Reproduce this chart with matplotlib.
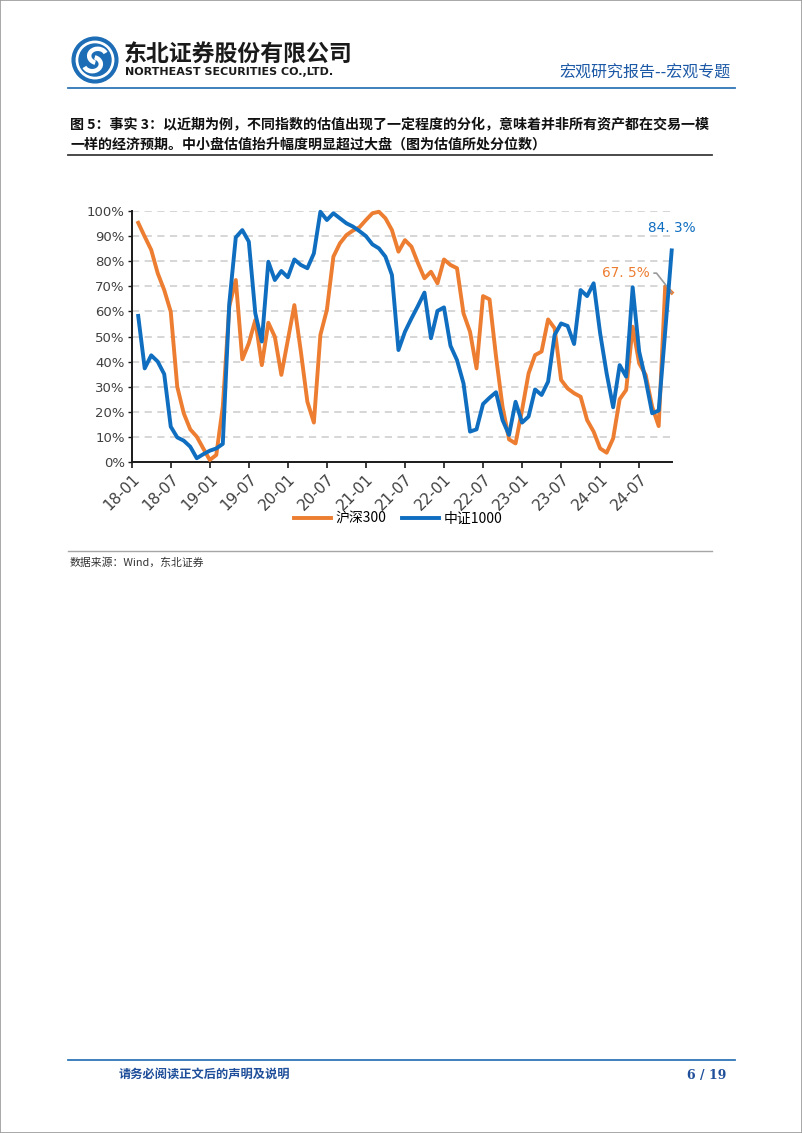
import numpy as np
import matplotlib
matplotlib.use("Agg")
import matplotlib.pyplot as plt
from matplotlib.patches import Circle, Arc, Rectangle
from matplotlib.lines import Line2D
from matplotlib.ticker import FuncFormatter

CJK = ['Noto Sans CJK SC', 'DejaVu Sans']
plt.rcParams['font.family'] = CJK

# ---------------- data (month-end percentile, %) ----------------
months_start = "2018-01"
tick_labels = ["18-01", "18-07", "19-01", "19-07", "20-01", "20-07", "21-01",
               "21-07", "22-01", "22-07", "23-01", "23-07", "24-01", "24-07"]
hs300 = [95.3, 89.8, 84.5, 75.2, 68.5, 59.9, 30.0, 19.4, 13.0, 10.1, 5.4, 0.8,
         2.8, 22.0, 62.0, 72.5, 40.9, 47.3, 56.6, 38.6, 55.5, 49.9, 34.7, 48.6,
         62.5, 44.0, 24.0, 15.7, 50.6, 60.6, 81.8, 87.1, 90.4, 92.2, 93.5, 96.4,
         99.1, 99.7, 97.1, 92.4, 83.8, 88.4, 85.8, 79.2, 73.2, 75.8, 71.2, 80.7,
         78.5, 77.2, 59.2, 51.9, 37.3, 66.1, 64.8, 42.0, 22.0, 9.0, 7.4, 20.7,
         35.3, 42.6, 44.0, 56.8, 53.3, 32.7, 29.3, 27.4, 26.0, 16.7, 12.1, 5.4,
         3.7, 9.4, 25.0, 28.7, 53.9, 39.3, 34.7, 22.0, 14.3, 69.9, 67.5]
zz1000 = [58.2, 37.3, 42.5, 40.0, 35.0, 14.1, 9.8, 8.5, 6.1, 1.5, 3.1, 4.5,
          5.4, 7.2, 63.2, 89.5, 92.4, 87.8, 59.2, 48.0, 79.8, 72.5, 76.1, 73.6,
          80.7, 78.5, 77.2, 83.1, 99.7, 96.4, 99.1, 97.1, 95.1, 93.8, 92.0, 90.0,
          86.7, 85.1, 81.8, 74.5, 44.6, 51.9, 57.2, 62.2, 67.5, 49.3, 60.2, 61.6,
          46.3, 40.6, 31.3, 12.1, 13.0, 23.1, 25.6, 27.8, 16.7, 10.8, 24.0, 15.7,
          18.1, 28.9, 26.7, 32.0, 50.6, 55.2, 54.2, 47.0, 68.5, 66.1, 71.2, 51.3,
          35.3, 21.8, 38.6, 34.0, 69.6, 44.0, 32.7, 19.4, 20.5, 52.0, 84.3]
series_names = ["沪深300", "中证1000"]
last_labels = ["67. 5%", "84. 3%"]

ORANGE = '#ED7D31'
BLUE = '#0F6EC0'

W, H = 802, 1133
fig = plt.figure(figsize=(W / 100, H / 100), dpi=100)


def fx(x):
    return x / W


def fy(y):
    return 1 - y / H


# ---------------- page border ----------------
fig.add_artist(Rectangle((0, 0), 1, 1, transform=fig.transFigure, fill=False,
                         edgecolor='#9A9A9A', lw=1.2))

# ---------------- header ----------------
lax = fig.add_axes([fx(71), fy(84), fx(48), 48 / H])
lax.set_xlim(-1.05, 1.05)
lax.set_ylim(-1.05, 1.05)
lax.set_aspect('equal')
lax.axis('off')
lax.add_patch(Circle((0, 0), 1.0, color='#1C6DB6'))
lax.add_patch(Circle((0, 0), 0.82, color='white'))
lax.add_patch(Circle((0, 0), 0.70, color='#1C6DB6'))
lax.add_patch(Arc((0.12, 0.18), 0.75, 0.62, theta1=20, theta2=250, color='white', lw=3.2))
lax.add_patch(Arc((-0.12, -0.18), 0.75, 0.62, theta1=200, theta2=430, color='white', lw=3.2))

fig.text(fx(124), fy(54), "东北证券股份有限公司", fontsize=16.5, fontweight='bold',
         color='#1A1A1A', va='center', ha='left')
fig.text(fx(125), fy(72), "NORTHEAST SECURITIES CO.,LTD.", fontsize=8, fontweight='bold',
         color='#1A1A1A', va='center', ha='left', family=['DejaVu Sans'])
fig.text(fx(731), fy(73), "宏观研究报告--宏观专题", fontsize=11.5, color='#1B58A6',
         va='center', ha='right')
fig.add_artist(Line2D([fx(68), fx(735)], [fy(88), fy(88)], transform=fig.transFigure,
                      color='#2E75B6', lw=1.3))

# ---------------- title ----------------
fig.text(fx(70), fy(125), "图 5：事实 3：以近期为例，不同指数的估值出现了一定程度的分化，意味着并非所有资产都在交易一模",
         fontsize=10.1, fontweight='bold', color='#111111', va='center', ha='left')
fig.text(fx(70), fy(145), "一样的经济预期。中小盘估值抬升幅度明显超过大盘（图为估值所处分位数）",
         fontsize=10.1, fontweight='bold', color='#111111', va='center', ha='left')
fig.add_artist(Line2D([fx(68), fx(712)], [fy(155), fy(155)], transform=fig.transFigure,
                      color='#3A3A3A', lw=1.3))

# ---------------- chart ----------------
ax = fig.add_axes([fx(131.7), fy(462), fx(671.7) - fx(131.7), (462 - 211) / H])
n = len(hs300)
x = np.arange(1, n + 1)
y1 = np.array(hs300) / 100
y2 = np.array(zz1000) / 100

ax.set_xlim(0, n)
ax.set_ylim(0, 1)
ax.set_yticks(np.linspace(0, 1, 11))
ax.yaxis.set_major_formatter(FuncFormatter(lambda v, p: f"{v * 100:.0f}%"))
ax.set_xticks(np.arange(0, 6 * len(tick_labels), 6))
ax.set_xticklabels(tick_labels, rotation=45, ha='right', rotation_mode='anchor')
ax.tick_params(axis='x', direction='out', length=4, width=1.2, color='#1A1A1A',
               labelsize=11, labelcolor='#404040', pad=3)
ax.tick_params(axis='y', direction='out', length=3, width=1.0, color='#1A1A1A',
               labelsize=9.5, labelcolor='#404040', pad=2)
for lab in ax.get_xticklabels() + ax.get_yticklabels():
    lab.set_family(['DejaVu Sans'])

for s in ['top', 'right']:
    ax.spines[s].set_visible(False)
for s in ['left', 'bottom']:
    ax.spines[s].set_color('#1A1A1A')
    ax.spines[s].set_linewidth(1.4)

ax.yaxis.grid(True, linestyle=(0, (4, 3)), color='#D3D3D3', lw=1.3)
ax.set_axisbelow(True)

l1, = ax.plot(x, y1, color=ORANGE, lw=2.8, clip_on=False, zorder=3)
l2, = ax.plot(x, y2, color=BLUE, lw=2.8, clip_on=False, zorder=4)

ax.annotate(last_labels[1], xy=(x[-1], y2[-1]), xytext=(0, 16), textcoords='offset points',
            ha='center', va='center', fontsize=9.8, color=BLUE, family=['DejaVu Sans'])
ax.annotate(last_labels[0], xy=(x[-1], y1[-1]), xytext=(-33, 14), textcoords='offset points',
            ha='center', va='center', fontsize=9.8, color=ORANGE, family=['DejaVu Sans'],
            arrowprops=dict(arrowstyle='-', color='#9A9A9A', lw=1.2, shrinkA=1, shrinkB=0,
                            relpos=(1.0, 0.5),
                            connectionstyle='angle,angleA=0,angleB=-52,rad=0'))

fig.legend([l1, l2], series_names, loc='center', bbox_to_anchor=(fx(398), fy(519)),
           ncol=2, frameon=False, handlelength=2.7, handletextpad=0.3,
           columnspacing=1.1, prop={'family': CJK, 'size': 10})

# ---------------- source ----------------
fig.add_artist(Line2D([fx(68), fx(712)], [fy(551), fy(551)], transform=fig.transFigure,
                      color='#A6A6A6', lw=1.0))
fig.text(fx(70), fy(563), "数据来源：Wind，东北证券", fontsize=7.8, color='#333333',
         va='center', ha='left')

# ---------------- footer ----------------
fig.add_artist(Line2D([fx(68), fx(735)], [fy(1060), fy(1060)], transform=fig.transFigure,
                      color='#2E75B6', lw=1.3))
fig.text(fx(119), fy(1075), "请务必阅读正文后的声明及说明", fontsize=8.8, fontweight='bold',
         color='#1F4E9A', va='center', ha='left')
fig.text(fx(726), fy(1075), "6 / 19", fontsize=9, fontweight='bold', color='#1F4E9A',
         va='center', ha='right', family=['DejaVu Serif'])

fig.savefig("out.png", dpi=100)
